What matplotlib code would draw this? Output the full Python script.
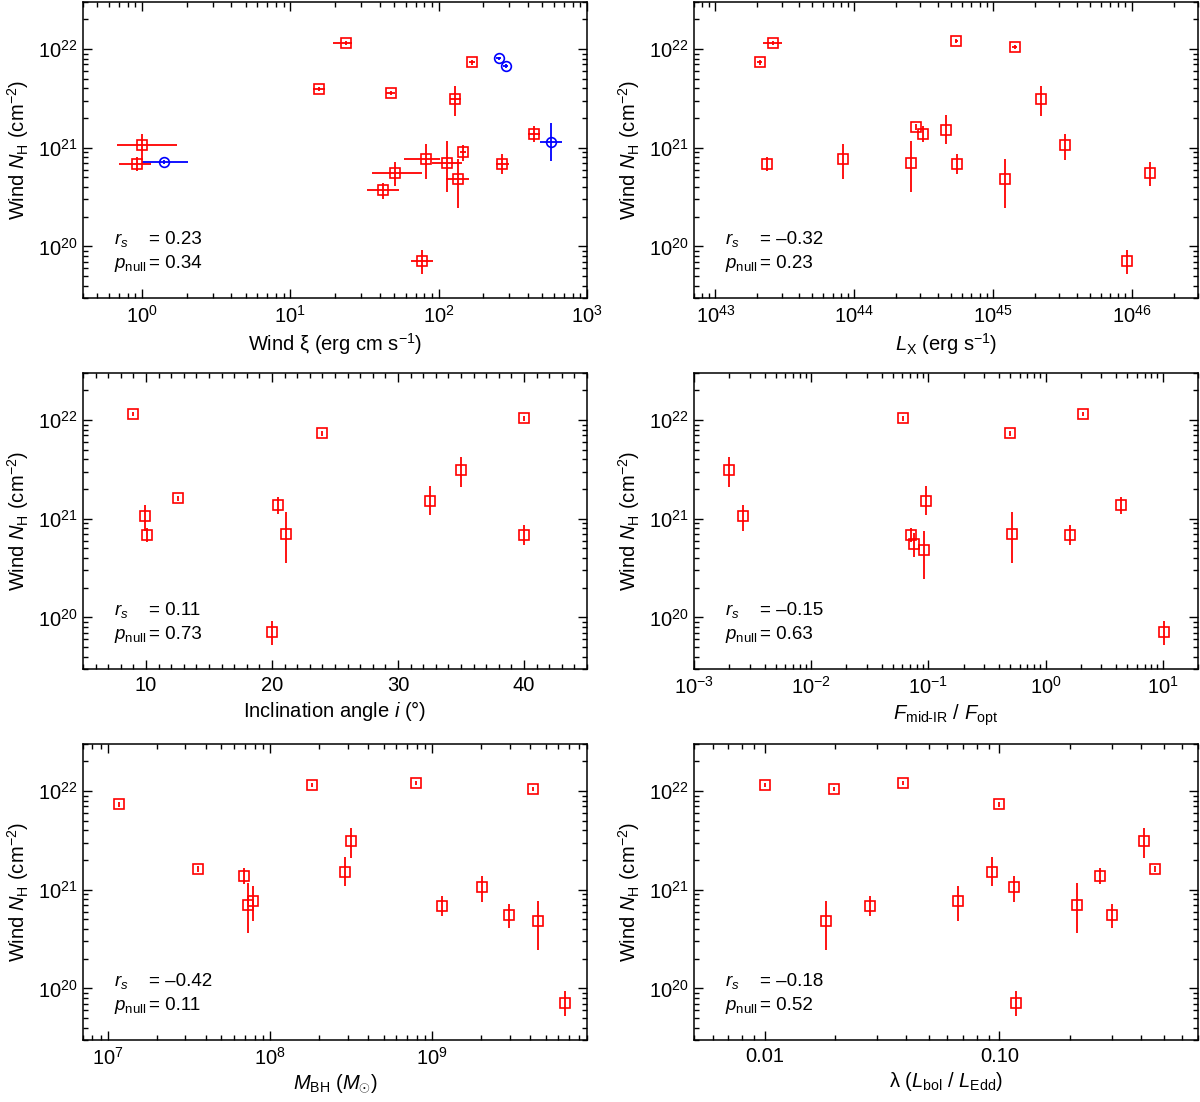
import numpy as np
import matplotlib
matplotlib.use('Agg')
import matplotlib.pyplot as plt
from matplotlib.ticker import LogLocator, NullFormatter, FormatStrFormatter, MultipleLocator

plt.rcParams.update({
    'font.family': ['Liberation Sans', 'DejaVu Sans'],
    'mathtext.fontset': 'custom',
    'mathtext.rm': 'Liberation Sans',
    'mathtext.it': 'Liberation Sans:italic',
    'mathtext.bf': 'Liberation Sans:bold',
    'mathtext.sf': 'Liberation Sans',
    'font.size': 14.5,
    'axes.linewidth': 1.1,
    'xtick.direction': 'in', 'ytick.direction': 'in',
    'xtick.top': True, 'ytick.right': True,
    'xtick.major.size': 6.8, 'ytick.major.size': 6.8,
    'xtick.minor.size': 3.8, 'ytick.minor.size': 3.8,
    'xtick.major.width': 1.0, 'ytick.major.width': 1.0,
    'xtick.minor.width': 1.0, 'ytick.minor.width': 1.0,
    'xtick.major.pad': 5, 'ytick.major.pad': 4,
})

# wind column density per absorber: value, lower bound, upper bound
nh    = np.array([1.16e22, 1.20e22, 1.04e22, 7.35e21, 3.93e21, 3.60e21, 3.10e21, 1.62e21, 1.50e21, 1.38e21,
                  1.07e21, 9.0e20, 7.6e20, 7.05e20, 6.85e20, 6.8e20, 5.5e20, 4.8e20, 3.7e20, 7.1e19])
nh_lo = np.array([1.10e22, 1.14e22, 0.99e22, 6.95e21, 3.75e21, 3.45e21, 2.10e21, 1.52e21, 1.09e21, 1.13e21,
                  7.5e20, 7.4e20, 4.8e20, 3.6e20, 5.4e20, 5.75e20, 4.1e20, 2.45e20, 3.05e20, 5.2e19])
nh_hi = np.array([1.22e22, 1.26e22, 1.09e22, 7.75e21, 4.10e21, 3.75e21, 4.20e21, 1.72e21, 2.17e21, 1.65e21,
                  1.39e21, 1.07e21, 1.09e21, 1.17e21, 8.6e20, 8.0e20, 7.1e20, 7.6e20, 4.4e20, 9.3e19])

# panel 1: wind ionisation parameter
xi_obj = [15, 10, 4, 0, 5, 18, 16, 19, 12, 13, 6, 17, 11, 3, 14, 9]
xi_val = [0.92, 1.0, 15.7, 23.6, 47.4, 41.9, 50.9, 77.5, 82.3, 114.6, 129, 135, 145, 167.5, 269, 439]
xi_lo  = [0.70, 0.68, 14.3, 19.5, 43.8, 33.0, 35.7, 64.6, 58.3, 89.6, 120, 112, 139, 160, 245, 403]
xi_hi  = [1.15, 1.71, 17.0, 26.1, 51.0, 53.7, 77.1, 92.0, 102, 143, 141, 161, 152, 175, 300, 480]
xi_blue    = [1.41, 253, 283, 570]
xi_blue_lo = [1.0, 243, 272, 483]
xi_blue_hi = [2.05, 263, 294, 677]
nh_blue    = [7.2e20, 8.05e21, 6.7e21, 1.13e21]
nh_blue_lo = [6.9e20, 7.7e21, 6.4e21, 7.3e20]
nh_blue_hi = [7.5e20, 8.4e21, 7.0e21, 1.79e21]

# panel 2: X-ray luminosity
lx_obj = [3, 0, 15, 12, 13, 7, 9, 8, 1, 14, 17, 2, 6, 10, 19, 16]
lx_val = [2.08e43, 2.58e43, 2.34e43, 8.32e43, 2.55e44, 2.78e44, 3.14e44, 4.6e44, 5.43e44, 5.5e44,
          1.22e45, 1.43e45, 2.23e45, 3.31e45, 9.3e45, 1.36e46]
lx_lo  = [2.0e43, 2.21e43, 2.34e43, 8.32e43, 2.55e44, 2.78e44, 3.14e44, 4.6e44, 5.3e44, 5.5e44,
          1.22e45, 1.38e45, 2.23e45, 3.31e45, 9.3e45, 1.36e46]
lx_hi  = [2.16e43, 3.04e43, 2.34e43, 8.32e43, 2.55e44, 2.78e44, 3.14e44, 4.6e44, 5.56e44, 5.5e44,
          1.22e45, 1.48e45, 2.23e45, 3.31e45, 9.3e45, 1.36e46]

# panel 3: inclination angle
inc_obj = [0, 10, 15, 7, 19, 9, 13, 3, 8, 6, 2, 14]
inc_val = [9.0, 9.9, 10.1, 12.5, 20.0, 20.5, 21.1, 24.0, 32.5, 35.0, 40.0, 40.0]

# panel 4: mid-IR / optical flux ratio
fr_obj = [6, 10, 2, 15, 16, 17, 8, 3, 13, 14, 0, 9, 19]
fr_val = [2.0e-3, 2.61e-3, 0.0605, 0.0713, 0.0757, 0.0927, 0.0948, 0.494, 0.513, 1.62, 2.1, 4.41, 10.2]

# panel 5: black hole mass
mbh_obj = [3, 7, 9, 13, 12, 0, 8, 6, 1, 14, 10, 16, 2, 17, 19]
mbh_val = [1.17e7, 3.59e7, 6.9e7, 7.25e7, 7.87e7, 1.81e8, 2.88e8, 3.17e8, 7.96e8, 1.15e9,
           2.01e9, 2.95e9, 4.16e9, 4.49e9, 6.58e9]

# panel 6: Eddington ratio
lam_obj = [0, 17, 2, 14, 1, 12, 8, 3, 10, 19, 13, 9, 16, 6, 7]
lam_val = [0.01, 0.01824, 0.0198, 0.0281, 0.0388, 0.0667, 0.0927, 0.1, 0.1149, 0.1175,
           0.213, 0.267, 0.302, 0.412, 0.458]

rs_vals = ['0.23', '\u20130.32', '0.11', '\u20130.15', '\u20130.42', '\u20130.18']
pn_vals = ['0.34', '0.23', '0.73', '0.63', '0.11', '0.52']

xlabels = [r'Wind ξ (erg cm s$^{-1}$)',
           r'$L_{\rm X}$ (erg s$^{-1}$)',
           r'Inclination angle $i$ (°)',
           r'$F_{\rm mid\text{-}IR}$ / $F_{\rm opt}$',
           r'$M_{\rm BH}$ ($M_{\odot}$)',
           r'λ ($L_{\rm bol}$ / $L_{\rm Edd}$)']
xlims = [(0.4, 1000), (7e42, 3e46), (5, 45), (1e-3, 20), (7e6, 9e9), (0.005, 0.7)]

fig = plt.figure(figsize=(12, 11.02), dpi=100)
lefts = [0.0692, 0.5783]
bottoms = [0.7296, 0.3929, 0.0563]
axes = []
for r in range(3):
    for c in range(2):
        axes.append(fig.add_axes([lefts[c], bottoms[r], 0.42, 0.2686]))


def draw(ax, x, obj, xlo=None, xhi=None):
    x = np.asarray(x, float)
    obj = np.asarray(obj)
    y = nh[obj]
    yerr = [y - nh_lo[obj], nh_hi[obj] - y]
    xerr = None if xlo is None else [x - np.asarray(xlo), np.asarray(xhi) - x]
    ax.errorbar(x, y, xerr=xerr, yerr=yerr, fmt='s', ms=7.8, mfc='none', mec='red', mew=1.2,
                ecolor='red', elinewidth=1.3, capsize=0, zorder=3)


draw(axes[0], xi_val, xi_obj, xi_lo, xi_hi)
xb = np.array(xi_blue); yb = np.array(nh_blue)
axes[0].errorbar(xb, yb, xerr=[xb - np.array(xi_blue_lo), np.array(xi_blue_hi) - xb],
                 yerr=[yb - np.array(nh_blue_lo), np.array(nh_blue_hi) - yb],
                 fmt='o', ms=7, mfc='none', mec='blue', mew=1.2, ecolor='blue',
                 elinewidth=1.3, capsize=0, zorder=3)
draw(axes[1], lx_val, lx_obj, lx_lo, lx_hi)
draw(axes[2], inc_val, inc_obj)
draw(axes[3], fr_val, fr_obj)
draw(axes[4], mbh_val, mbh_obj)
draw(axes[5], lam_val, lam_obj)

for i, ax in enumerate(axes):
    ax.set_yscale('log')
    if i != 2:
        ax.set_xscale('log')
    ax.set_xlim(*xlims[i])
    ax.set_ylim(3e19, 3e22)
    if i != 2:
        ax.xaxis.set_major_locator(LogLocator(base=10.0, numticks=20))
        ax.xaxis.set_minor_locator(LogLocator(base=10.0, subs=(2, 3, 4, 5, 6, 7, 8, 9), numticks=100))
        ax.xaxis.set_minor_formatter(NullFormatter())
    else:
        ax.xaxis.set_major_locator(MultipleLocator(10))
        ax.xaxis.set_minor_locator(MultipleLocator(1))
    ax.yaxis.set_major_locator(LogLocator(base=10.0, numticks=20))
    ax.yaxis.set_minor_locator(LogLocator(base=10.0, subs=(2, 3, 4, 5, 6, 7, 8, 9), numticks=100))
    ax.yaxis.set_minor_formatter(NullFormatter())
    ax.tick_params(which='both', direction='in', top=True, right=True, labelsize=14.5)
    ax.tick_params(which='minor', length=3.8, width=1.0)
    ax.set_xlabel(xlabels[i], fontsize=14.5, labelpad=3)
    ax.set_ylabel(r'Wind $N_{\rm H}$ (cm$^{-2}$)', fontsize=14.5, labelpad=5)
    ax.text(0.062, 0.181, r'$r_s$', transform=ax.transAxes, fontsize=13.5, va='baseline')
    ax.text(0.131, 0.181, '= ' + rs_vals[i], transform=ax.transAxes, fontsize=13.5, va='baseline')
    ax.text(0.062, 0.10, r'$p_{\rm null}$', transform=ax.transAxes, fontsize=13.5, va='baseline')
    ax.text(0.131, 0.10, '= ' + pn_vals[i], transform=ax.transAxes, fontsize=13.5, va='baseline')

axes[5].xaxis.set_major_formatter(FormatStrFormatter('%.2f'))

fig.savefig('out.png', dpi=100)
